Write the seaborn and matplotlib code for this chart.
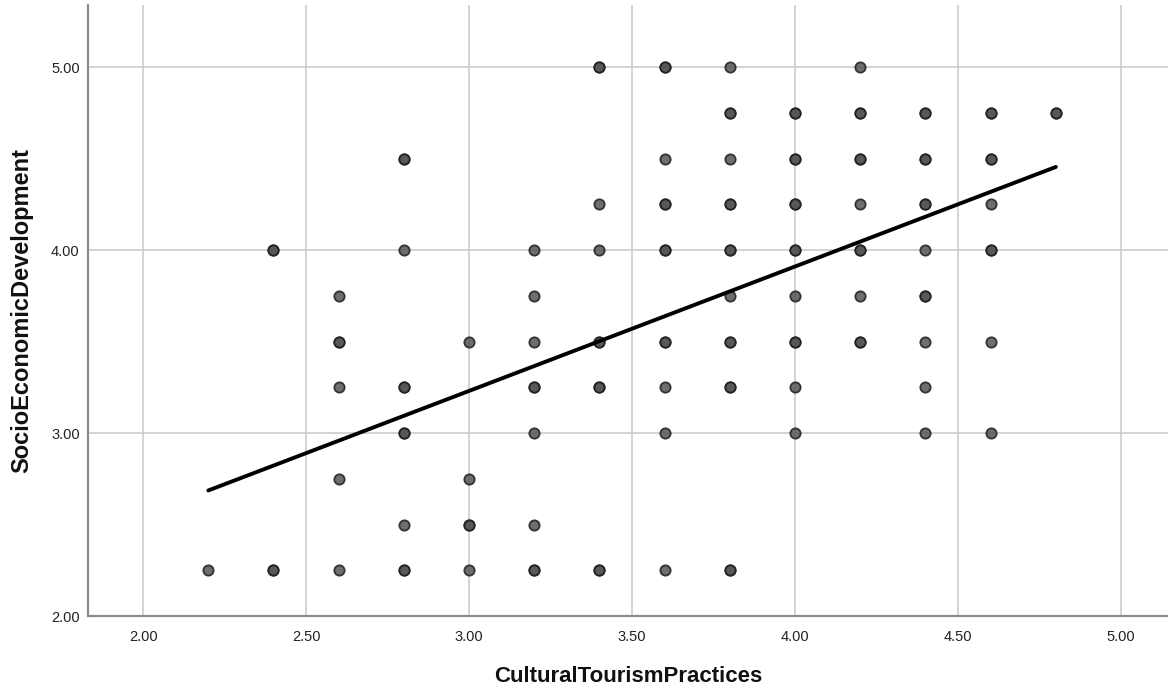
import matplotlib
matplotlib.use("Agg")
import matplotlib.pyplot as plt
import seaborn as sns
import numpy as np
import pandas as pd

# Data: (x, y, multiplicity ~ darkness)
x_vals = [2.2,
          2.4, 2.4,
          2.6, 2.6, 2.6, 2.6, 2.6,
          2.8, 2.8, 2.8, 2.8, 2.8, 2.8,
          3.0, 3.0, 3.0, 3.0,
          3.2, 3.2, 3.2, 3.2, 3.2, 3.2, 3.2,
          3.4, 3.4, 3.4, 3.4, 3.4, 3.4,
          3.6, 3.6, 3.6, 3.6, 3.6, 3.6, 3.6, 3.6,
          3.8, 3.8, 3.8, 3.8, 3.8, 3.8, 3.8, 3.8, 3.8,
          4.0, 4.0, 4.0, 4.0, 4.0, 4.0, 4.0, 4.0,
          4.2, 4.2, 4.2, 4.2, 4.2, 4.2, 4.2,
          4.4, 4.4, 4.4, 4.4, 4.4, 4.4, 4.4, 4.4,
          4.6, 4.6, 4.6, 4.6, 4.6, 4.6,
          4.8]
y_vals = [2.25,
          4.00, 2.25,
          3.75, 3.50, 3.25, 2.75, 2.25,
          4.50, 4.00, 3.25, 3.00, 2.50, 2.25,
          3.50, 2.75, 2.50, 2.25,
          4.00, 3.75, 3.50, 3.25, 3.00, 2.50, 2.25,
          5.00, 4.25, 4.00, 3.50, 3.25, 2.25,
          5.00, 4.50, 4.25, 4.00, 3.50, 3.25, 3.00, 2.25,
          5.00, 4.75, 4.50, 4.25, 4.00, 3.75, 3.50, 3.25, 2.25,
          4.75, 4.50, 4.25, 4.00, 3.75, 3.50, 3.25, 3.00,
          5.00, 4.75, 4.50, 4.25, 4.00, 3.75, 3.50,
          4.75, 4.50, 4.25, 4.00, 3.75, 3.50, 3.25, 3.00,
          4.75, 4.50, 4.25, 4.00, 3.50, 3.00,
          4.75]
counts = [1,
          2, 2,
          1, 2, 1, 1, 1,
          2, 1, 2, 2, 1, 2,
          1, 1, 2, 1,
          1, 1, 1, 2, 1, 1, 2,
          2, 1, 1, 2, 2, 2,
          2, 1, 2, 2, 2, 1, 1, 1,
          1, 2, 1, 2, 2, 1, 2, 2, 2,
          2, 2, 2, 2, 1, 2, 1, 1,
          1, 2, 2, 1, 2, 1, 2,
          2, 2, 2, 1, 2, 1, 1, 1,
          2, 2, 1, 2, 1, 1,
          2]

# Fit line (linear regression)
fit_intercept = 1.19
fit_slope = 0.68

x_ticks = [2.0, 2.5, 3.0, 3.5, 4.0, 4.5, 5.0]
y_ticks = [2.0, 3.0, 4.0, 5.0]
x_label = "CulturalTourismPractices"
y_label = "SocioEconomicDevelopment"

df = pd.DataFrame({"x": np.repeat(x_vals, counts), "y": np.repeat(y_vals, counts)})

sns.set_theme(style="white")
plt.rcParams['font.family'] = ['Liberation Sans', 'DejaVu Sans']

fig = plt.figure(figsize=(11.68, 6.92), dpi=100)
ax = fig.add_axes([88/1168, 1 - 616/692, 1 - 88/1168, (616 - 5)/692])

ax.grid(True, color="#c8c8c8", linewidth=1.1)
ax.set_axisbelow(True)

sns.scatterplot(data=df, x="x", y="y", ax=ax, s=55, color="#555555", alpha=0.85,
                edgecolor="#1e1e1e", linewidth=1.3, zorder=3, legend=False)

line_x = np.array([min(x_vals), max(x_vals)])
line_df = pd.DataFrame({"x": line_x, "y": fit_intercept + fit_slope * line_x})
sns.lineplot(data=line_df, x="x", y="y", ax=ax, color="black", linewidth=2.8, zorder=4)

ax.set_xlim(1.831, 5.144)
ax.set_ylim(2.0, 5.339)
ax.set_xticks(x_ticks)
ax.set_yticks(y_ticks)
ax.set_xticklabels([f"{t:.2f}" for t in x_ticks])
ax.set_yticklabels([f"{t:.2f}" for t in y_ticks])
ax.tick_params(axis="both", length=0, labelsize=10.5, colors="#222222")
ax.tick_params(axis="x", pad=10)
ax.tick_params(axis="y", pad=6)

ax.set_xlabel(x_label, fontsize=16, fontweight="bold", color="#111111")
ax.set_ylabel(y_label, fontsize=17, fontweight="bold", color="#111111")
ax.xaxis.set_label_coords(0.5, (616 - 666) / 611)
ax.yaxis.set_label_coords((33 - 88) / 1080, 0.5)

for side in ["top", "right"]:
    ax.spines[side].set_visible(False)
for side in ["left", "bottom"]:
    ax.spines[side].set_color("#8c8c8c")
    ax.spines[side].set_linewidth(1.6)

fig.savefig("out.png", dpi=100)
